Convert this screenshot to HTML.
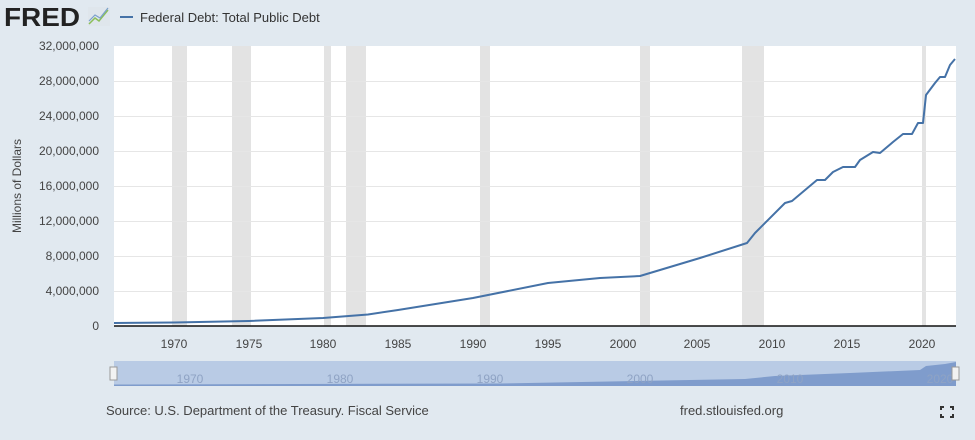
<!DOCTYPE html>
<html><head><style>
body{margin:0;width:975px;height:435px;background:#e1e9f0;font-family:"Liberation Sans",sans-serif;overflow:hidden}
</style></head><body>
<svg width="975" height="435" viewBox="0 0 975 435" xmlns="http://www.w3.org/2000/svg" font-family="Liberation Sans, sans-serif">
<rect width="975" height="435" fill="#e1e9f0"/>
<text x="4" y="26" font-size="26" font-weight="bold" fill="#222" textLength="76" lengthAdjust="spacingAndGlyphs">FRED</text>
<rect x="88" y="7" width="22" height="19" fill="#dfe6ec"/>
<polyline points="89,24 95,18 99,21 108,10" fill="none" stroke="#8bbf5a" stroke-width="1.5"/>
<polyline points="89,21 95,15 100,18 108,8" fill="none" stroke="#7aa0cc" stroke-width="1.2"/>
<line x1="120" y1="17" x2="133" y2="17" stroke="#4572a7" stroke-width="2"/>
<text x="140" y="22" font-size="13" fill="#333">Federal Debt: Total Public Debt</text>
<rect x="114" y="46" width="842" height="280" fill="#fff"/>
<g fill="#e3e3e3">
<rect x="172" y="46" width="15" height="280"/><rect x="232" y="46" width="19" height="280"/>
<rect x="324" y="46" width="7" height="280"/><rect x="346" y="46" width="20" height="280"/>
<rect x="480" y="46" width="10" height="280"/><rect x="640" y="46" width="10" height="280"/>
<rect x="742" y="46" width="22" height="280"/><rect x="922" y="46" width="4" height="280"/>
</g>
<g stroke="#e6e6e6" stroke-width="1">
<line x1="114" x2="956" y1="81.5" y2="81.5"/><line x1="114" x2="956" y1="116.5" y2="116.5"/>
<line x1="114" x2="956" y1="151.5" y2="151.5"/><line x1="114" x2="956" y1="186.5" y2="186.5"/>
<line x1="114" x2="956" y1="221.5" y2="221.5"/><line x1="114" x2="956" y1="256.5" y2="256.5"/>
<line x1="114" x2="956" y1="291.5" y2="291.5"/>
</g>
<line x1="114" x2="956" y1="326" y2="326" stroke="#111" stroke-width="1.5"/>
<g font-size="12" fill="#444" text-anchor="end">
<text x="99" y="50">32,000,000</text><text x="99" y="85">28,000,000</text><text x="99" y="120">24,000,000</text>
<text x="99" y="155">20,000,000</text><text x="99" y="190">16,000,000</text><text x="99" y="225">12,000,000</text>
<text x="99" y="260">8,000,000</text><text x="99" y="295">4,000,000</text><text x="99" y="330">0</text>
</g>
<text transform="translate(21,186) rotate(-90)" font-size="12" fill="#444" text-anchor="middle">Millions of Dollars</text>
<g font-size="12" fill="#444" text-anchor="middle">
<text x="174" y="348">1970</text><text x="249" y="348">1975</text><text x="323" y="348">1980</text>
<text x="398" y="348">1985</text><text x="473" y="348">1990</text><text x="548" y="348">1995</text>
<text x="623" y="348">2000</text><text x="697" y="348">2005</text><text x="772" y="348">2010</text>
<text x="847" y="348">2015</text><text x="922" y="348">2020</text>
</g>
<polyline fill="none" stroke="#4572a7" stroke-width="2" stroke-linejoin="round" points="114,323 174,322.5 249,321 323,318 368,314.5 398,310 473,298 548,283 600,278 640,276 700,258 747,243 755,233 785,203 792,201 817,180 825,180 833,172 843,167 855,167 860,160 873,152 880,153 893,142 903,134 912,134 918,123 923,123 926,95 935,83 940,77 945,77 950,65 955,59"/>
<rect x="114" y="361" width="842" height="25" fill="#b9cbe5"/>
<polygon fill="#7f9ccc" points="114,386 114,384.5 500,383.5 745,379 775,376 850,373 920,370 926,366 945,364 956,362 956,386"/>
<g font-size="12" fill="#8fa3c4" text-anchor="middle">
<text x="190" y="383">1970</text><text x="340" y="383">1980</text><text x="490" y="383">1990</text>
<text x="640" y="383">2000</text><text x="790" y="383">2010</text><text x="940" y="383">2020</text>
</g>
<rect x="110" y="367" width="7" height="13" fill="#f2f2f2" stroke="#999"/>
<rect x="952" y="367" width="7" height="13" fill="#f2f2f2" stroke="#999"/>
<text x="106" y="415" font-size="13" fill="#444">Source: U.S. Department of the Treasury. Fiscal Service</text>
<text x="680" y="415" font-size="13" fill="#444">fred.stlouisfed.org</text>
<g stroke="#333" stroke-width="2" fill="none">
<polyline points="941,410 941,407 944,407"/><polyline points="950,407 953,407 953,410"/>
<polyline points="941,414 941,417 944,417"/><polyline points="950,417 953,417 953,414"/>
</g>
</svg>
</body></html>
